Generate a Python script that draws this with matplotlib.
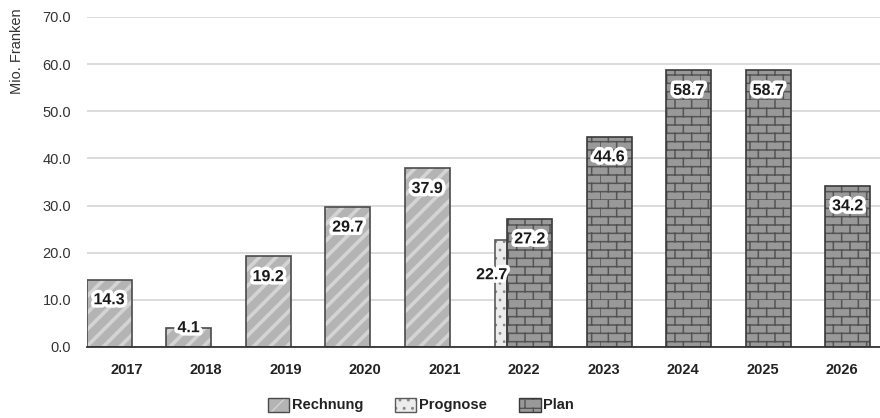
import warnings
import numpy as np
import matplotlib
matplotlib.use('Agg')
import matplotlib.pyplot as plt
import matplotlib.hatch as mhatch
import matplotlib.patheffects as pe
from matplotlib.path import Path
from matplotlib.patches import Patch
from matplotlib.legend_handler import HandlerTuple

warnings.filterwarnings('ignore')

years = ['2017', '2018', '2019', '2020', '2021', '2022', '2023', '2024', '2025', '2026']
rechnung_years = ['2017', '2018', '2019', '2020', '2021']
rechnung = [14.3, 4.1, 19.2, 29.7, 37.9]
prognose_years = ['2022']
prognose = [22.7]
plan_years = ['2022', '2023', '2024', '2025', '2026']
plan = [27.2, 44.6, 58.7, 58.7, 34.2]
yticks = [0, 10, 20, 30, 40, 50, 60, 70]


# brick pattern as an extra hatch type ('b')
class BrickHatch(mhatch.HatchPatternBase):
    rows, cols = 12, 6

    def __init__(self, hatch, density):
        self.num_lines = (self.rows + self.rows * self.cols) if 'b' in hatch else 0
        self.num_vertices = self.num_lines * 2

    def set_vertices_and_codes(self, vertices, codes):
        segs = []
        for r in range(self.rows):
            y0, y1 = r / self.rows, (r + 1) / self.rows
            segs.append(((0, y0), (1, y0)))
            shift = 0.5 / self.cols if r % 2 else 0
            for c in range(self.cols):
                x = c / self.cols + shift
                segs.append(((x, y0), (x, y1)))
        vertices[:] = np.array(segs).reshape(-1, 2)
        codes[0::2] = Path.MOVETO
        codes[1::2] = Path.LINETO


mhatch._hatch_types.append(BrickHatch)

plt.rcParams['font.family'] = ['Liberation Sans', 'DejaVu Sans']

fig = plt.figure(figsize=(8.8, 4.18), dpi=100)
ax = fig.add_axes([87 / 880, 71 / 418, 795 / 880, 330 / 418])

styles = {
    'Rechnung': dict(face='#b4b4b4', hatch='//', hcolor='#d4d4d4', hlw=2.6, edge='#4a4a4a', off=-0.22, w=0.566),
    'Prognose': dict(face='#ececec', hatch='..', hcolor='#8a8a8a', hlw=0.8, edge='#5a5a5a', off=-0.296, w=0.15),
    'Plan': dict(face='#999999', hatch='b', hcolor='#545454', hlw=1.1, edge='#3a3a3a', off=0.07, w=0.566),
}


def draw(name, cats, vals):
    s = styles[name]
    x = np.array([years.index(c) for c in cats]) + s['off']
    with plt.rc_context({'hatch.color': s['hcolor'], 'hatch.linewidth': s['hlw']}):
        ax.bar(x, vals, width=s['w'], color=s['face'], hatch=s['hatch'], linewidth=0, zorder=2)
        h1 = Patch(facecolor=s['face'], hatch=s['hatch'], linewidth=0)
    ax.bar(x, vals, width=s['w'], fill=False, edgecolor=s['edge'], linewidth=1.2, zorder=3)
    h2 = Patch(fill=False, edgecolor=s['edge'], linewidth=1.0)
    return x, (h1, h2)


glow = [pe.withStroke(linewidth=5, foreground='white')]

xr, hr = draw('Rechnung', rechnung_years, rechnung)
xp, hp = draw('Prognose', prognose_years, prognose)
xl, hl = draw('Plan', plan_years, plan)

for x, v in list(zip(xr, rechnung)) + list(zip(xl, plan)):
    dy = 0 if v < 8 else -14.5
    ax.annotate(f'{v:.1f}', (x, v), xytext=(0, dy), textcoords='offset points',
                ha='center', va='center', fontsize=11.5, fontweight='bold',
                color='#1a1a1a', path_effects=glow, zorder=5)
for x, v in zip(xp, prognose):
    ax.annotate(f'{v:.1f}', (x, v), xytext=(-6.5, -25), textcoords='offset points',
                ha='center', va='center', fontsize=11.5, fontweight='bold',
                color='#1a1a1a', path_effects=glow, zorder=5)

ax.set_xlim(-0.5, 9.5)
ax.set_ylim(0, 70)
ax.set_xticks(range(len(years)))
ax.set_xticklabels(years, fontweight='bold', fontsize=10.5, color='#222222')
ax.set_yticks(yticks)
ax.set_yticklabels([f'{t:.1f}' for t in yticks], fontsize=10.5, color='#333333')
ax.tick_params(length=0)
ax.tick_params(axis='x', pad=11.5)
ax.tick_params(axis='y', pad=11.5)
ax.grid(axis='y', color='#d6d6d6', linewidth=1.2, zorder=0)
ax.set_axisbelow(True)
for sp in ['left', 'right', 'top']:
    ax.spines[sp].set_visible(False)
ax.spines['bottom'].set_color('#333333')
ax.spines['bottom'].set_linewidth(1.3)
ax.spines['bottom'].set_zorder(4)

fig.text(17 / 880, 410 / 418, 'Mio. Franken', rotation=90, ha='center', va='top',
         fontsize=10.5, color='#333333')

leg = fig.legend([hr, hp, hl], ['Rechnung', 'Prognose', 'Plan'],
                 handler_map={tuple: HandlerTuple(ndivide=1, pad=0)},
                 loc='center', bbox_to_anchor=(421 / 880, 13 / 418), ncol=3, frameon=False,
                 prop={'weight': 'bold', 'size': 10.5}, handlelength=1.45, handleheight=1.1,
                 handletextpad=0.2, columnspacing=2.2, borderpad=0)
for t in leg.get_texts():
    t.set_color('#222222')

fig.savefig('out.png', dpi=100)
